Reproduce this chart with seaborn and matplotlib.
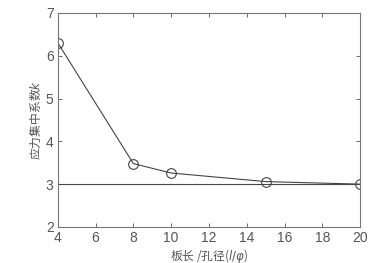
import matplotlib
matplotlib.use("Agg")
import matplotlib.pyplot as plt
import seaborn as sns
import pandas as pd

ratio = [4, 8, 10, 15, 20]
k_values = [6.3, 3.48, 3.26, 3.06, 3.0]
ref_level = 3.0
xticks = [4, 6, 8, 10, 12, 14, 16, 18, 20]
yticks = [2, 3, 4, 5, 6, 7]

sns.set_style("white")
plt.rcParams['font.family'] = ['Noto Sans CJK SC', 'DejaVu Sans']
plt.rcParams['mathtext.fontset'] = 'dejavusans'

df = pd.DataFrame({"ratio": ratio, "k": k_values})

fig = plt.figure(figsize=(3.88, 2.63), dpi=100)
ax = fig.add_axes([0.149, 0.137, 0.779, 0.814])

sns.lineplot(data=df, x="ratio", y="k", ax=ax, color="#444444", linewidth=0.8,
             marker="o", markersize=7, markerfacecolor="none",
             markeredgecolor="#444444", markeredgewidth=0.8)
ax.axhline(ref_level, color="#444444", linewidth=0.8)

ax.set_xlim(4, 20)
ax.set_ylim(2, 7)
ax.set_xticks(xticks)
ax.set_yticks(yticks)
ax.tick_params(direction="in", length=3, width=0.6, color="#555555",
               labelsize=10, labelcolor="#555555", top=True, right=True,
               bottom=True, left=True, pad=3)
for lab in ax.get_xticklabels() + ax.get_yticklabels():
    lab.set_fontfamily("Liberation Sans")
for s in ax.spines.values():
    s.set_color("#777777")
    s.set_linewidth(0.8)

ax.set_xlabel("板长 /孔径($l/\\varphi$)", fontsize=8.5, color="#555555", labelpad=1)
ax.set_ylabel("应力集中系数$k$", fontsize=8.5, color="#555555", labelpad=2)

fig.savefig("out.png", dpi=100)
